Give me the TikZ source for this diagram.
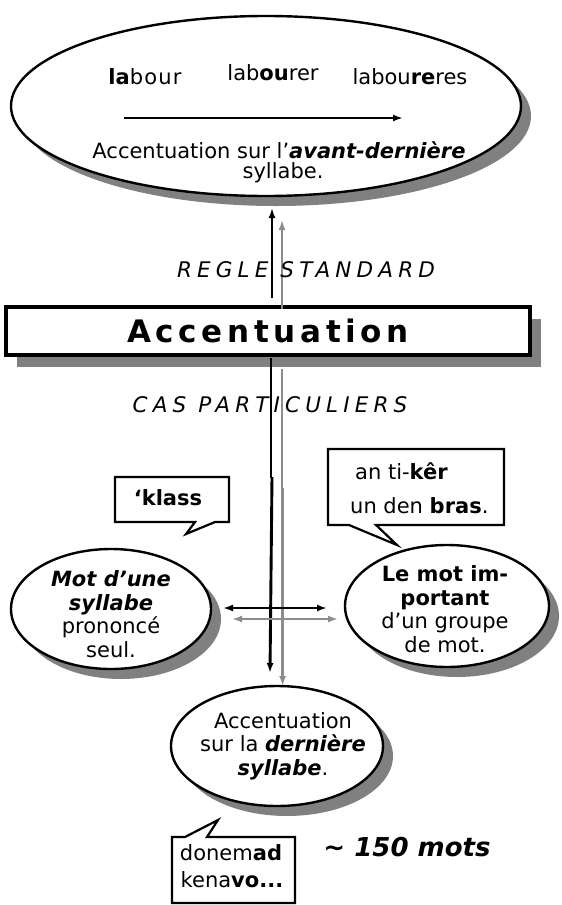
\documentclass[tikz,border=0pt]{standalone}
\usepackage{fontspec}
\setmainfont{DejaVu Sans}
\newfontfamily\spacedA[LetterSpace=24]{DejaVu Sans}
\newfontfamily\spacedB[LetterSpace=15]{DejaVu Sans}
\usetikzlibrary{shapes.geometric,arrows.meta,shadows}
\definecolor{shade}{HTML}{808080}
\definecolor{arrgray}{HTML}{8C8C8C}
\begin{document}
\begin{tikzpicture}[x=1pt,y=-1pt,
  oval/.style={ellipse, draw, line width=2.4pt, fill=white, inner sep=0pt,
    drop shadow={shadow xshift=10pt, shadow yshift=-10pt, fill=shade, opacity=1}},
  titlebox/.style={rectangle, draw, line width=3.2pt, fill=white, inner sep=0pt,
    minimum width=524pt, minimum height=48pt,
    drop shadow={shadow xshift=11pt, shadow yshift=-12pt, fill=shade, opacity=1}},
  txt/.style={inner sep=0pt, font=\fontsize{21}{23.5}\selectfont, align=center},
  callout/.style={draw, line width=2.2pt, fill=white, line join=miter},
  blk/.style={line width=2.9pt, black},
  gry/.style={line width=2.6pt, arrgray},
  tip/.style={-{Latex[length=10pt,width=7pt]}},
  dtip/.style={{Latex[length=10pt,width=7pt]}-{Latex[length=10pt,width=7pt]}}
]
\useasboundingbox (0,0) rectangle (562,905);

% top ellipse
\node[oval, minimum width=510pt, minimum height=180pt] (top) at (266,106) {};
\node[txt] (w1) at (145,77) {\textbf{la}b\kern1.2pt o\kern1.2pt u\kern1.2pt r};
\node[txt] (w2) at (273,73) {lab\textbf{ou}rer};
\node[txt] (w3) at (410,77) {labou\textbf{re}res};
\coordinate (a0) at (124,118);
\coordinate (a1) at (403,118);
\draw[line width=2.4pt, tip] (a0) -- (a1);
\node[txt] (t1) at (279,150) {Accentuation sur l’\textbf{\textit{avant-dernière}}};
\node[txt] (t2) at (283,173) {syllabe.};

% title box
\node[titlebox, font=\fontsize{31}{36}\selectfont\spacedB\bfseries] (acc) at (268,331) {Accentuation};

% upward arrows
\coordinate (bu0) at (272,298);
\coordinate (bu1) at (272,208);
\coordinate (gu0) at (282,309);
\coordinate (gu1) at (282,220);
\draw[gry, tip] (gu0) -- (gu1);
\draw[blk, tip] (bu0) -- (bu1);
\node[inner sep=0pt, font=\fontsize{21.5}{24}\selectfont\spacedA\itshape] (std) at (306,270) {REGLE STANDARD};
\node[inner sep=0pt, font=\fontsize{21.5}{24}\selectfont\spacedA\itshape] (cas) at (270,405) {CAS PARTICULIERS};

% side ellipses
\node[oval, minimum width=200pt, minimum height=120pt] (left) at (111,609) {};
\node[oval, minimum width=204pt, minimum height=122pt] (right) at (447,606) {};
\node[oval, minimum width=212pt, minimum height=120pt] (bot) at (277,746) {};

\node[txt] (lt) at (111,614) {\textbf{\textit{Mot d’une}}\\\textbf{\textit{syllabe}}\\prononcé\\seul.};
\node[txt] (rt) at (445,609) {\textbf{Le mot im-}\\\textbf{portant}\\d’un groupe\\de mot.};
\node[txt] (bt) at (283,746) {Accentuation\\sur la \textbf{\textit{dernière}}\\\textbf{\textit{syllabe}}.};

% downward lines
\coordinate (bd0) at (271,358);
\coordinate (bd1) at (271,478);
\coordinate (bd2) at (272,477);
\coordinate (bd3) at (270,673);
\coordinate (gd0) at (282,369);
\coordinate (gd1) at (282,489);
\coordinate (gd2) at (282.6,488);
\coordinate (gd3) at (282.6,686);
\draw[gry] (gd0) -- (gd1);
\draw[gry, tip] (gd2) -- (gd3);
\draw[blk] (bd0) -- (bd1);
\draw[blk, tip] (bd2) -- (bd3);

% horizontal double arrows
\coordinate (hb0) at (223,608);
\coordinate (hb1) at (327,608);
\coordinate (hg0) at (232,619);
\coordinate (hg1) at (338,619);
\draw[gry, line width=2.4pt, dtip] (hg0) -- (hg1);
\draw[blk, line width=2.4pt, dtip] (hb0) -- (hb1);

% callouts
\draw[callout] (115,477) -- (229,477) -- (229,522) -- (215,522) -- (186,534) -- (195,522) -- (115,522) -- cycle;
\node[txt] (k) at (168,498) {\textbf{‘klass}};

\draw[callout] (328,449) -- (504,449) -- (504,525) -- (376,525) -- (397,545) -- (349,525) -- (328,525) -- cycle;
\node[txt, anchor=west] (k1) at (355,471) {an ti-\textbf{kêr}};
\node[txt, anchor=west] (k2) at (350,506) {un den \textbf{bras}.};

\draw[callout] (172,837) -- (185,837) -- (218,820) -- (207,837) -- (295,837) -- (295,903) -- (172,903) -- cycle;
\node[txt] (d1) at (231,853) {donem\textbf{ad}};
\node[txt] (d2) at (232,880) {kena\textbf{vo...}};

\node[inner sep=0pt, font=\fontsize{26}{30}\selectfont\bfseries\itshape] (n) at (407,847) {\textasciitilde{} 150 mots};
\end{tikzpicture}
\end{document}
